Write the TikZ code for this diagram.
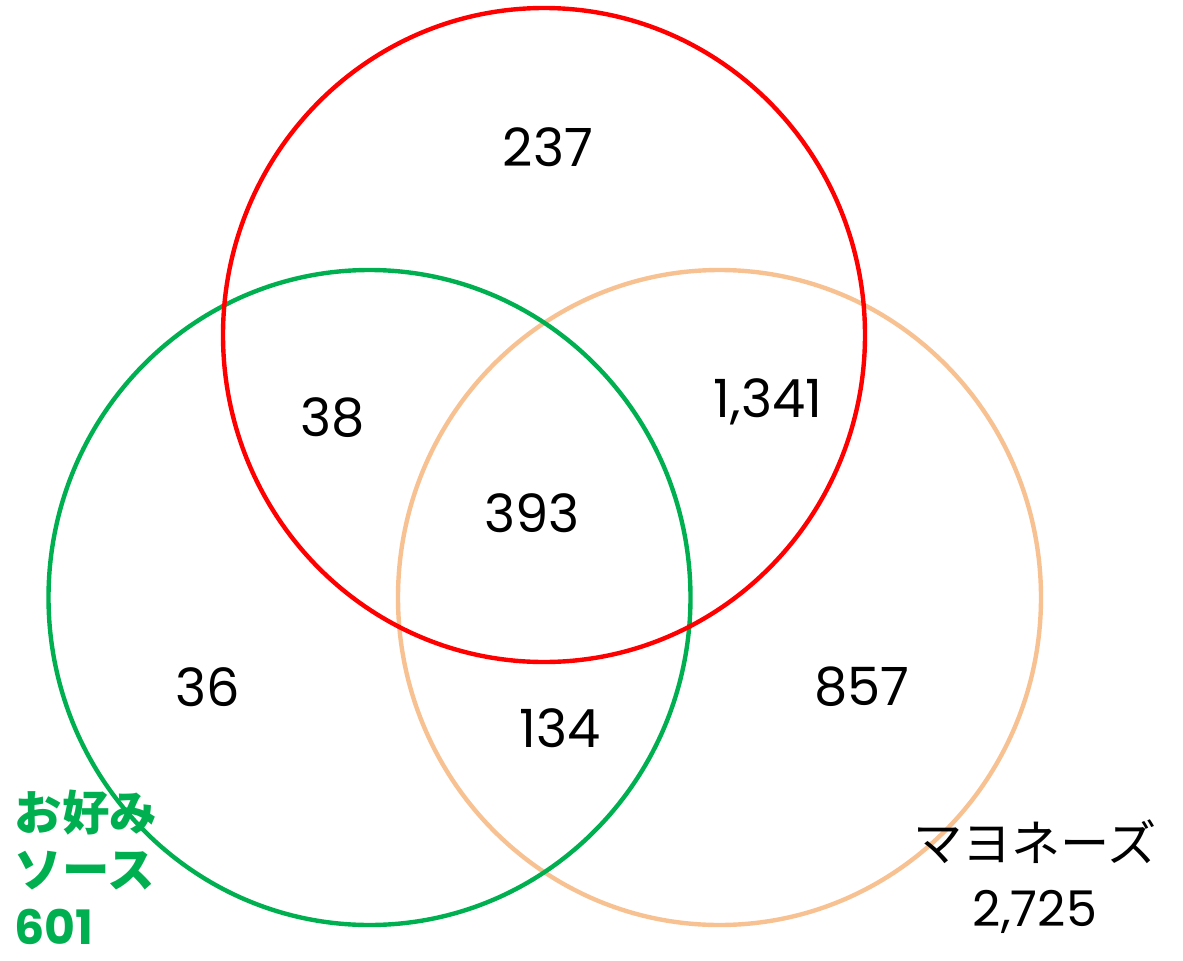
\documentclass[tikz,border=0pt]{standalone}
\usepackage{fontspec}
\setmainfont{Poppins}
\newfontfamily\jpfont{Noto Sans CJK JP}
\usepackage{tikz}
\definecolor{setred}{HTML}{FF0000}
\definecolor{setgreen}{HTML}{00B050}
\definecolor{setpeach}{HTML}{F8C192}
\tikzset{
  setline/.style={line width=1.25pt},
  count/.style={font=\fontsize{15}{18}\selectfont},
}
\begin{document}
\begin{tikzpicture}

\useasboundingbox (0,0) rectangle (11.83,9.6);

\draw[setline, color=setpeach] (7.195,3.625) ellipse (3.215 and 3.275);
\draw[setline, color=setgreen] (3.695,3.625) ellipse (3.21 and 3.275);
\draw[setline, color=setred] (5.44,6.25) ellipse (3.21 and 3.27);

\node[count] (ronly) at (5.48,8.13) {237};
\node[count] (rg) at (3.33,5.42) {38};
\node[count] (rm) at (7.68,5.58) {1,341};
\node[count] (rgm) at (5.32,4.47) {393};
\node[count] (gonly) at (2.08,2.73) {36};
\node[count] (gm) at (5.60,2.32) {134};
\node[count] (monly) at (8.62,2.73) {857};

\node[anchor=north west, align=left, inner sep=0pt, color=setgreen,
      font=\fontsize{13.5}{16.3}\selectfont\bfseries] (sauce) at (0.14,1.71)
  {{\jpfont\bfseries お好み}\\{\jpfont\bfseries ソース}\\601};
\node[align=center, inner sep=0pt,
      font=\fontsize{14}{18.5}\selectfont] (mayo) at (10.35,0.83)
  {{\jpfont マヨネーズ}\\2,725};

\end{tikzpicture}
\end{document}
